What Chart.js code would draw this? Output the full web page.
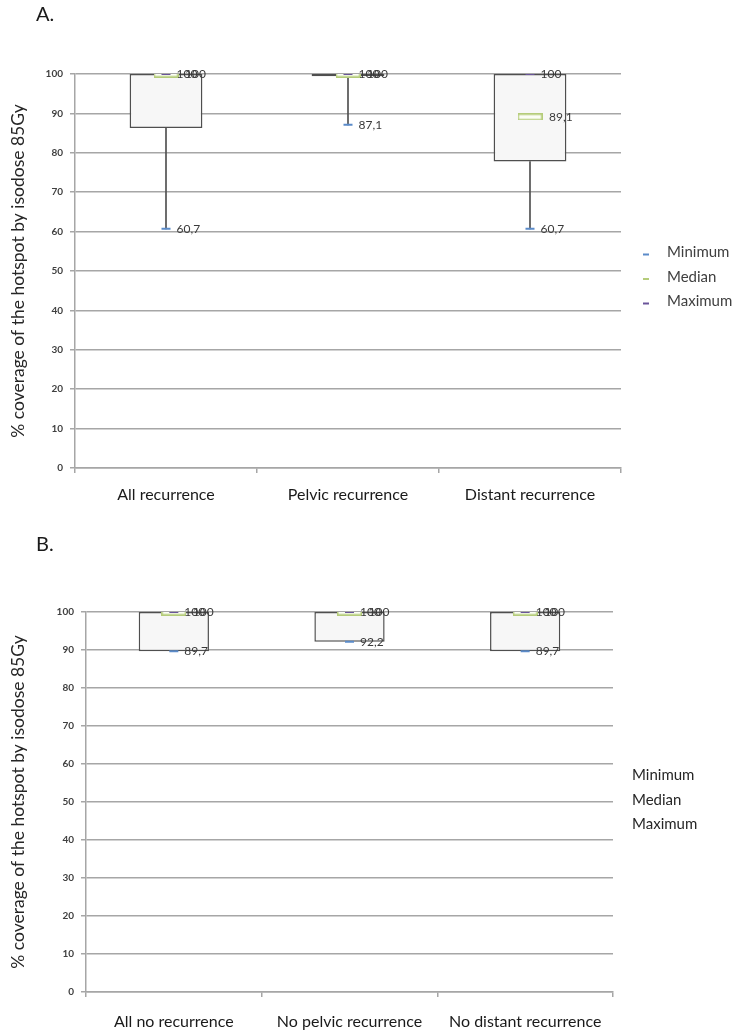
<!DOCTYPE html>
<html>
<head>
<meta charset="utf-8">
<script src="https://cdn.jsdelivr.net/npm/chart.js@4.4.1/dist/chart.umd.min.js"></script>
<style>
  html, body { margin: 0; padding: 0; background: #fff; }
  .panel { position: relative; width: 742px; }
  #panelA { height: 520px; }
  #panelB { height: 512px; }
</style>
</head>
<body>
<div class="panel" id="panelA"><canvas id="chartA"></canvas></div>
<div class="panel" id="panelB"><canvas id="chartB"></canvas></div>
<script>
// --- dados ---
const yTitle = '% coverage of the hotspot by isodose 85Gy';
const seriesLabels = ['Minimum', 'Median', 'Maximum'];
const yMin = 0, yMax = 100, yStep = 10;

// Painel A (recidiva)
const categoriesA = ['All recurrence', 'Pelvic recurrence', 'Distant recurrence'];
const minA = [60.7, 87.1, 60.7];
const q1A = [86.3, 99.4, 77.8];
const medianA = [100, 100, 89.1];
const q3A = [100, 100, 100];
const maxA = [100, 100, 100];

// Painel B (sem recidiva)
const categoriesB = ['All no recurrence', 'No pelvic recurrence', 'No distant recurrence'];
const minB = [89.7, 92.2, 89.7];
const q1B = [89.7, 92.2, 89.7];
const medianB = [100, 100, 100];
const q3B = [100, 100, 100];
const maxB = [100, 100, 100];

const FONT = 'Lato';
const GRID = '#a6a6a6';
const COL_MIN = '#5b8bc9';
const COL_MED = '#b5cc7a';
const COL_MAX = '#6a559a';

const fmt = v => String(v).replace('.', ',');

// retângulo vazado usado como marcador da mediana
function medianMarker() {
    const c = document.createElement('canvas');
    c.width = 25; c.height = 7;
    const g = c.getContext('2d');
    g.strokeStyle = COL_MED;
    g.lineWidth = 1.5;
    g.fillStyle = '#fbfdf5';
    g.fillRect(1, 1, 23, 5);
    g.strokeRect(0.75, 0.75, 23.5, 5.5);
    return c;
}

// letra do painel, rótulos dos valores e legenda
const overlayPlugin = {
    id: 'overlay',
    afterDatasetsDraw(chart, args, opts) {
        const ctx = chart.ctx;
        const area = chart.chartArea;
        ctx.save();
        ctx.textBaseline = 'middle';
        ctx.textAlign = 'left';

        // rótulos dos valores
        ctx.font = `12px ${FONT}`;
        ctx.fillStyle = '#3a3a3a';
        chart.data.datasets.forEach((ds, i) => {
            if (ds.labelOffset === undefined) return;
            chart.getDatasetMeta(i).data.forEach((pt, j) => {
                ctx.fillText(fmt(ds.data[j]), pt.x + ds.labelOffset, pt.y);
            });
        });

        // letra do painel
        ctx.font = `20px ${FONT}`;
        ctx.fillStyle = '#1a1a1a';
        ctx.fillText(opts.letter, 36, 15 + opts.letterDy);

        // legenda
        const series = chart.data.datasets.filter(d => d.labelOffset !== undefined);
        const cy = (area.top + area.bottom) / 2 + opts.legendDy;
        ctx.font = `15px ${FONT}`;
        series.forEach((ds, k) => {
            const y = cy + (k - 1) * 24.5;
            const x = area.right + opts.legendX;
            if (opts.markers) {
                ctx.strokeStyle = ds.borderColor;
                ctx.lineWidth = 2;
                ctx.beginPath();
                ctx.moveTo(x - 24, y + 2);
                ctx.lineTo(x - 18, y + 2);
                ctx.stroke();
            }
            ctx.fillStyle = opts.legendColor;
            ctx.fillText(ds.label, x, y);
        });
        ctx.restore();
    }
};

function buildChart(id, cats, mins, q1s, meds, q3s, maxs, cfg) {
    return new Chart(document.getElementById(id), {
        type: 'bar',
        data: {
            labels: cats,
            datasets: [
                {
                    label: seriesLabels[0], type: 'line', data: mins, showLine: false,
                    pointStyle: 'line', pointRadius: 4.5, pointBorderWidth: 2,
                    borderColor: COL_MIN, labelOffset: 10.5, order: 0
                },
                {
                    label: seriesLabels[1], type: 'line', data: meds, showLine: false,
                    pointStyle: medianMarker(), borderColor: COL_MED, labelOffset: 19, order: 1
                },
                {
                    label: seriesLabels[2], type: 'line', data: maxs, showLine: false,
                    pointStyle: 'line', pointRadius: 4.5, pointBorderWidth: 2,
                    borderColor: COL_MAX, labelOffset: 10.5, order: 0
                },
                {
                    label: 'box', data: q1s.map((v, i) => [v, q3s[i]]),
                    backgroundColor: '#f7f7f7', borderColor: '#4f4f4f', borderWidth: 1.5,
                    borderSkipped: false, barPercentage: 0.4, categoryPercentage: 1,
                    grouped: false, order: 3
                },
                {
                    label: 'whisker', data: mins.map((v, i) => [v, q1s[i]]),
                    backgroundColor: '#505050', barThickness: 1, grouped: false, order: 4
                }
            ]
        },
        options: {
            responsive: true,
            maintainAspectRatio: false,
            animation: false,
            events: [],
            layout: { padding: cfg.padding },
            plugins: {
                legend: { display: false },
                tooltip: { enabled: false },
                overlay: cfg.overlay
            },
            scales: {
                x: {
                    grid: { drawOnChartArea: false, drawTicks: true, tickLength: 5, color: GRID, lineWidth: 1.5 },
                    border: { color: GRID, width: 1.5 },
                    ticks: { font: { family: FONT, size: 16 }, color: '#1a1a1a', padding: cfg.xPad, maxRotation: 0 },
                    afterFit(scale) { scale.height = cfg.xHeight; }
                },
                y: {
                    min: yMin, max: yMax,
                    ticks: { stepSize: yStep, font: { family: FONT, size: 10, weight: 'bold' }, color: '#404040', padding: 7 },
                    grid: { color: GRID, lineWidth: 1.5, tickLength: 5 },
                    border: { color: GRID, width: 1.5 },
                    title: {
                        display: true, text: yTitle, color: '#262626',
                        font: { family: FONT, size: 17.5 }, padding: { top: 7.5, bottom: 0 }
                    },
                    afterFit(scale) { scale.width = cfg.yWidth; }
                }
            }
        },
        plugins: [overlayPlugin]
    });
}

buildChart('chartA', categoriesA, minA, q1A, medianA, q3A, maxA, {
    padding: { left: 0, top: 74, right: 121, bottom: 8 },
    yWidth: 75, xHeight: 44, xPad: 12,
    overlay: { letter: 'A.', letterDy: 0, legendX: 46, legendDy: 6, markers: true, legendColor: '#404040' }
});

buildChart('chartB', categoriesB, minB, q1B, medianB, q3B, maxB, {
    padding: { left: 0, top: 92, right: 129, bottom: 0 },
    yWidth: 86, xHeight: 40, xPad: 15,
    overlay: { letter: 'B.', letterDy: 10, legendX: 19, legendDy: -2, markers: false, legendColor: '#262626' }
});
</script>
</body>
</html>
